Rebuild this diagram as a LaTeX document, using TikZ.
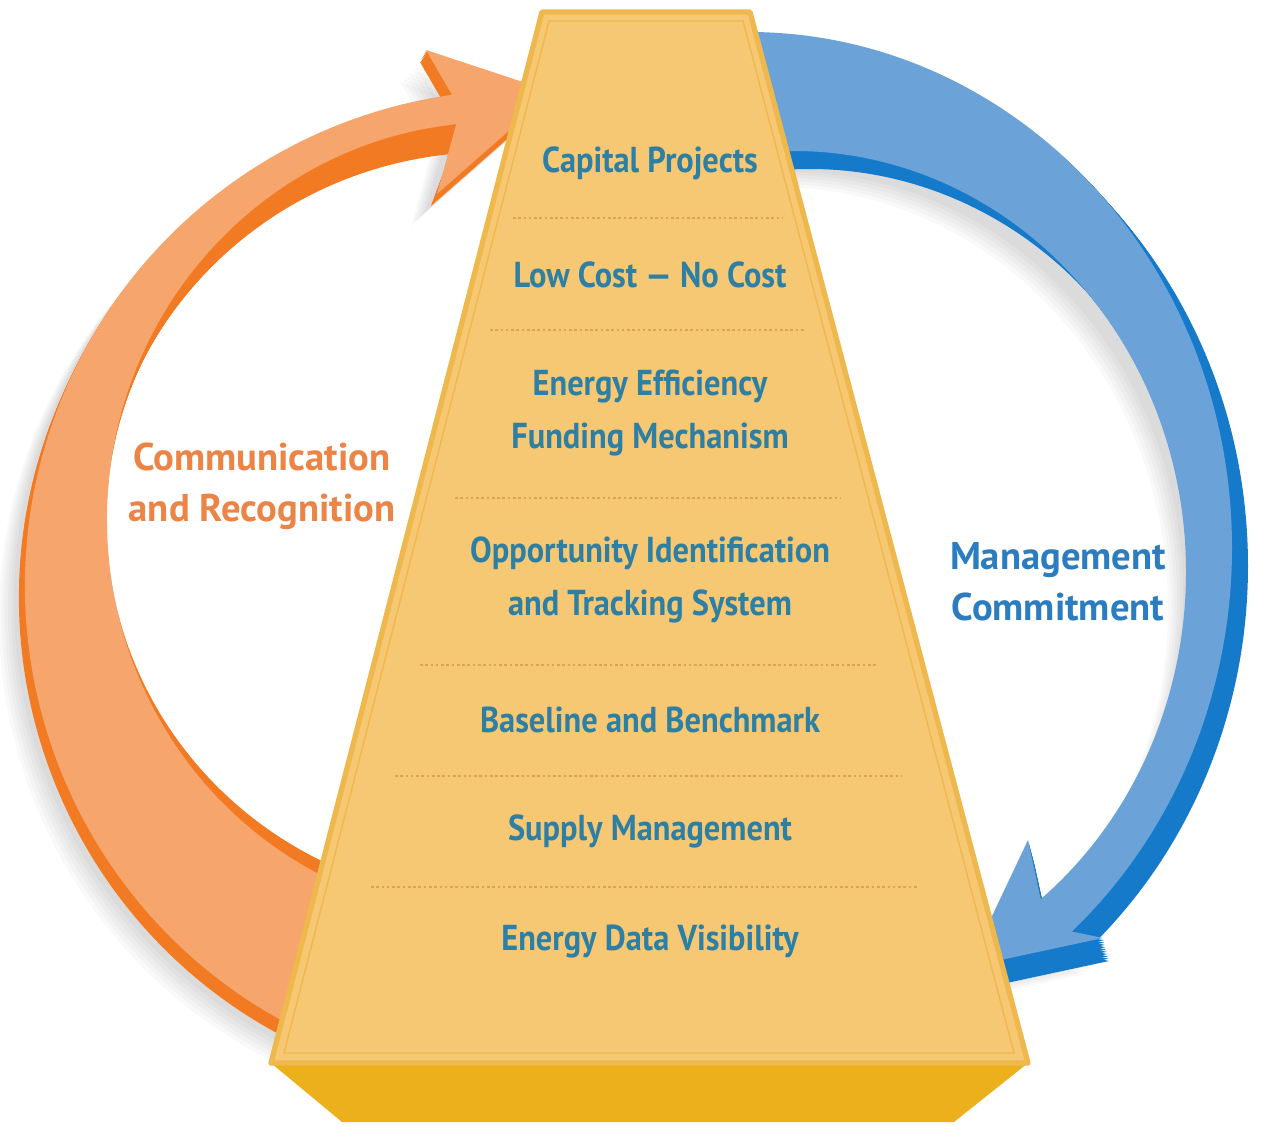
\documentclass[tikz,border=0pt]{standalone}
\usepackage{fontspec}
\setmainfont{PT Sans}
\newfontfamily\lvlfont{PT Sans}[FakeStretch=0.9]
\usetikzlibrary{positioning,calc}
\definecolor{facegold}{HTML}{F6C874}
\definecolor{edgegold}{HTML}{EFB84C}
\definecolor{frontgold}{HTML}{EBB01C}
\definecolor{dotgold}{HTML}{D9A552}
\definecolor{lvltxt}{HTML}{2D7FA3}
\definecolor{orangelt}{HTML}{F6A56C}
\definecolor{orangedk}{HTML}{F27A22}
\definecolor{orangetxt}{HTML}{EC8446}
\definecolor{bluelt}{HTML}{6BA3D8}
\definecolor{bluedk}{HTML}{167ACB}
\definecolor{bluetxt}{HTML}{2C7DC0}

% arrow outlines, pixel units (y down)
\newcommand{\commarrow}{(521,586) ++(116:496) arc[start angle=116, end angle=262, radius=496]
  -- (426,50) -- (553,92) -- (437,194)
  -- ($(497,520)+(264:390 and 398)$) arc[start angle=264, end angle=115, x radius=390, y radius=398] -- cycle}
\newcommand{\commdark}{(521,586) ++(116:496) arc[start angle=116, end angle=262, radius=496]
  -- (426,50) -- (553,92) -- (437,194)
  -- ($(497,520)+(264:390 and 380)$) arc[start angle=264, end angle=115, x radius=390, y radius=380] -- cycle}
\newcommand{\mgmtarrow}{(748,548) ++(268:484 and 516) arc[start angle=268, end angle=408, x radius=484, y radius=516]
  -- (1103,938) -- (968,967) -- (1028,840)
  -- ($(794,572)+(51:392 and 421)$) arc[start angle=51, end angle=-95, x radius=392, y radius=421] -- cycle}
\newcommand{\mgmtshaft}{(748,548) ++(268:484 and 516) arc[start angle=268, end angle=408, x radius=484, y radius=516]
  -- ($(794,572)+(51:392 and 421)$) arc[start angle=51, end angle=-95, x radius=392, y radius=421] -- cycle}
\newcommand{\mgmthead}{(1072,931) -- (1103,938) -- (968,967) -- (1028,840) -- (1041,899) -- cycle}

\tikzset{
  lvl/.style={text=lvltxt, align=center, font=\lvlfont\bfseries\fontsize{20.5}{30}\selectfont},
  cyclelbl/.style={align=center, font=\bfseries\fontsize{22}{29}\selectfont},
  sep/.style={dotgold, line width=0.9pt, dash pattern=on 1.5pt off 1.5pt},
  softshadow/.style={black, opacity=0.025}
}

\begin{document}
\begin{tikzpicture}[x=0.02cm, y=-0.02cm]
  \fill[white] (0,0) rectangle (1269,1125);
  \useasboundingbox (0,0) rectangle (1269,1125);

  % soft shadows
  \foreach \t in {1,...,6} {
    \fill[softshadow, shift={({-8-3*\t},{14+3*\t})}] \commarrow;
    \fill[softshadow, shift={({-3*\t},{18+3*\t})}] \mgmtarrow;
  }

  % the two cycle arrows, extruded sides first
  \foreach \t in {1,...,10}
    \fill[orangedk, shift={({-0.6*\t},{1.2*\t})}] \commdark;
  \fill[orangelt] \commarrow;
  \foreach \t in {1,...,10} {
    \fill[bluedk, shift={({1.6*\t},{1.8*\t})}] \mgmtshaft;
    \fill[bluedk, shift={({0.6*\t},{2.3*\t})}] \mgmthead;
  }
  \fill[bluelt] \mgmtarrow;

  % pyramid
  \coordinate (tl) at (542,12);
  \coordinate (tr) at (750,12);
  \coordinate (br) at (1028,1063);
  \coordinate (bl) at (271,1063);
  \coordinate (fbr) at (954,1122);
  \coordinate (fbl) at (342,1122);
  \fill[frontgold] (bl) -- (br) -- (fbr) -- (fbl) -- cycle;
  \fill[facegold, draw=edgegold, line width=3pt, line join=round] (tl) -- (tr) -- (br) -- (bl) -- cycle;
  \draw[edgegold, line width=0.8pt] (549,21) -- (743,21) -- (1014,1053) -- (284,1053) -- cycle;

  \foreach \y/\a/\b in {218/513/783, 330/490/804, 498/455/841, 665/420/877, 776/395/902, 887/371/918}
    \draw[sep] (\a,\y) -- (\b,\y);

  \node[lvl] (capproj) at (650,163) {Capital Projects};
  \node[lvl] (lowcost) at (650,275) {Low Cost — No Cost};
  \node[lvl] (funding) at (650,413) {Energy Efficiency\\Funding Mechanism};
  \node[lvl] (tracking) at (650,580) {Opportunity Identification\\and Tracking System};
  \node[lvl] (baseline) at (650,720) {Baseline and Benchmark};
  \node[lvl] (supply) at (650,831) {Supply Management};
  \node[lvl] (datavis) at (650,942) {Energy Data Visibility};

  \node[cyclelbl, text=orangetxt] (commrec) at (262,486) {Communication\\and Recognition};
  \node[cyclelbl, text=bluetxt] (mgmtcom) at (1058,582) {Management\\Commitment};
\end{tikzpicture}
\end{document}
